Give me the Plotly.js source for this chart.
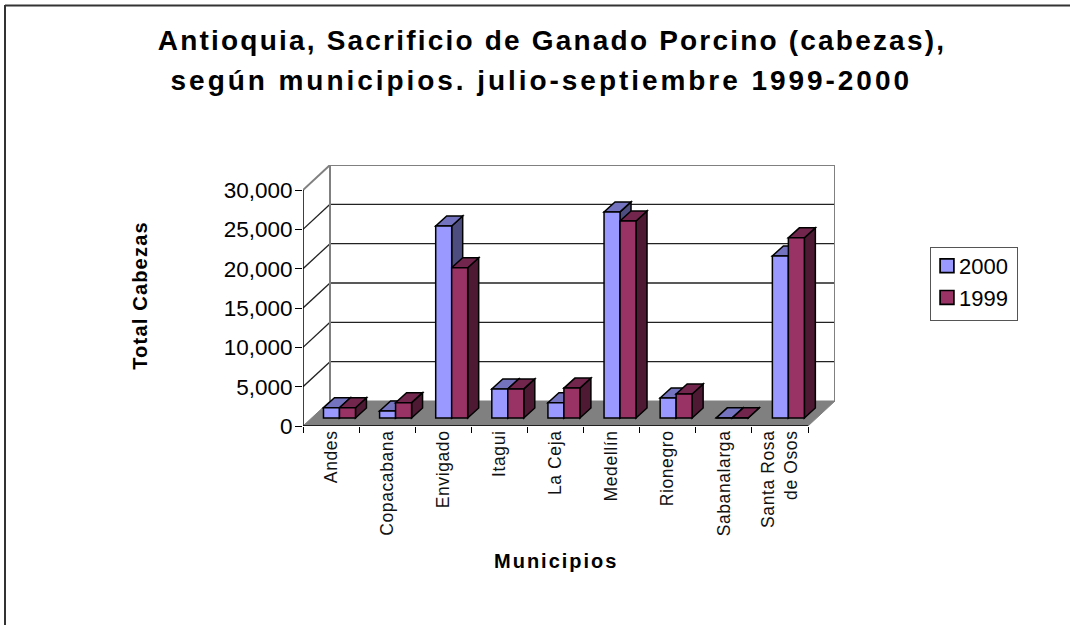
<!DOCTYPE html>
<html>
<head>
<meta charset="utf-8">
<script src="https://cdn.plot.ly/plotly-3.0.1.min.js"></script>
<style>
html,body{margin:0;padding:0;background:#fff}
#chart{width:1070px;height:625px}
.xtick text{letter-spacing:.6px}
.ytitle{letter-spacing:1.2px}
.annotation-text{letter-spacing:2px}
.legend .legendtext{transform:translate(-12px,-3px)}
.legend .legendpoints path{transform:translate(16px,-3px) scale(1.15)}
.legend .bg{width:87px;height:73px}
</style>
</head>
<body>
<div id="chart"></div>
<script>
const categories = ['Andes','Copacabana','Envigado','Itagui','La Ceja','Medellín','Rionegro','Sabanalarga','Santa Rosa<br>de Osos'];
const values2000 = [1300,900,24400,3700,1950,26200,2550,20,20600];
const values1999 = [1300,1950,19100,3700,3800,25050,3050,20,22900];
const yTicks = [0,5000,10000,15000,20000,25000,30000];

const W=1070,H=625;
const fx0=303, fx1=808, fy0=426, fyTop=190;     // front frame in px
const wallDx=27, wallDy=25;                     // depth of the box in px
const catPx=(fx1-fx0)/categories.length;
const valPx=(fy0-fyTop)/30000;
const xr=[-0.5, categories.length-0.5+wallDx/catPx];
const yr=[0,30000+wallDy/valPx];
const wx=wallDx/catPx, wy=wallDy/valPx;         // wall offset in data units
const floorY=8/valPx;                           // bars stand this far in on the floor
const barW=0.285, off2000=-0.135, off1999=0.15;
const depX=11/catPx, depY=10/valPx;

const GREY='#808080';
const shapes=[];
function poly(pts,fill,lc,lw){
  shapes.push({type:'path',layer:'below',xref:'x',yref:'y',
    path:'M'+pts.map(p=>p[0]+','+p[1]).join('L')+'Z',
    fillcolor:fill,line:{color:lc,width:lw}});
}
function seg(x0,y0,x1,y1,c,w){
  shapes.push({type:'line',layer:'below',xref:'x',yref:'y',x0,y0,x1,y1,line:{color:c,width:w}});
}
const xL=xr[0], xR=xr[0]+categories.length, yMax=30000;
// floor
poly([[xL,0],[xR,0],[xR+wx,wy],[xL+wx,wy]],GREY,GREY,1);
// wall gridlines and side lines
yTicks.forEach(v=>{
  if(v>0 && v<yMax) seg(xL+wx,v+wy,xR+wx,v+wy,'#222',1.3);
  if(v>0 && v<yMax) seg(xL,v,xL+wx,v+wy,'#222',1.3);
});
// wall frame
seg(xL,yMax,xL+wx,yMax+wy,GREY,2);
seg(xL+wx,wy,xL+wx,yMax+wy,GREY,2);
seg(xL+wx,yMax+wy,xR+wx,yMax+wy,GREY,2);
seg(xR+wx,wy,xR+wx,yMax+wy,GREY,2);
// bar depth faces
function faces(vals,off,topc,sidec){
  vals.forEach((v,i)=>{
    const l=i+off, r=l+barW, b=floorY, t=floorY+v;
    poly([[r,b],[r+depX,b+depY],[r+depX,t+depY],[r,t]],sidec,'#000',1.5);
    poly([[l,t],[r,t],[r+depX,t+depY],[l+depX,t+depY]],topc,'#000',1.5);
  });
}
faces(values2000,off2000,'#7373BF','#4D4D80');
faces(values1999,off1999,'#73264D','#4D1933');
// front axes
seg(xL,0,xL,yMax,'#000',1.5);
seg(xL,0,xR,0,'#000',1.5);

const bar=(name,vals,off,color,grp)=>({
  type:'bar',name,x:categories,y:vals,base:floorY,width:barW,offset:off,
  legendgroup:grp,
  marker:{color,line:{color:'#000',width:1.5}},
  hovertemplate:'%{x}: %{y:,d}<extra>'+name+'</extra>'
});
const traces=[bar('2000',values2000,off2000,'#9999FF','a'),bar('1999',values1999,off1999,'#993366','b')];

const pw=fx1+wallDx-fx0, ph=fy0-fyTop+wallDy;
const pxX=x=>(x-fx0)/pw, pxY=y=>(fy0-y)/ph;
const layout={
  width:W,height:H,autosize:false,
  paper_bgcolor:'#fff',plot_bgcolor:'#fff',
  font:{family:'"Liberation Sans",Arial,sans-serif',color:'#000'},
  barmode:'overlay',showlegend:true,
  title:{text:'<span style="font-size:28px;letter-spacing:2.2px">Antioquia, Sacrificio de Ganado Porcino (cabezas),</span><br><span style="font-size:28px;letter-spacing:2.95px">según municipios. julio-septiembre 1999-2000\u00A0\u00A0</span>',
    font:{size:31,weight:700,family:'"Liberation Sans",Arial,sans-serif',color:'#000'},
    x:552/W,xanchor:'center',y:1-49.5/H,yanchor:'top'},
  margin:{l:fx0,r:W-(fx1+wallDx),t:fyTop-wallDy,b:H-fy0,pad:0},
  xaxis:{type:'category',categoryorder:'array',categoryarray:categories,range:xr,autorange:false,
    showgrid:false,zeroline:false,showline:false,ticks:'outside',ticklen:6,tickwidth:1,tickcolor:'#000',
    tickson:'boundaries',tickangle:-90,tickfont:{size:17.5,color:'#111'},automargin:false},
  yaxis:{range:yr,autorange:false,tickmode:'array',tickvals:yTicks,ticktext:yTicks.map(v=>v.toLocaleString('en-US')),
    showgrid:false,zeroline:false,showline:false,ticks:'outside',ticklen:7,tickwidth:1,tickcolor:'#000',
    tickfont:{size:22.5,color:'#000'},automargin:true,ticklabelstandoff:-2,
    title:{text:'Total Cabezas\u00A0',font:{size:20,weight:700},standoff:70}},
  legend:{x:pxX(930),xanchor:'left',y:pxY(247),yanchor:'top',bgcolor:'#fff',bordercolor:'#555',borderwidth:1,
    font:{size:22,color:'#000'},tracegroupgap:10,traceorder:'normal',itemclick:false,itemdoubleclick:false},
  annotations:[{text:'<b>Municipios</b>',xref:'paper',yref:'paper',x:pxX(556),
    y:pxY(561),xanchor:'center',yanchor:'middle',showarrow:false,font:{size:20,color:'#000'}}],
  shapes:shapes.concat([
    {type:'line',xref:'paper',yref:'paper',layer:'below',x0:pxX(5),x1:pxX(W),y0:pxY(5.5),y1:pxY(5.5),line:{color:'#333',width:2}},
    {type:'line',xref:'paper',yref:'paper',layer:'below',x0:pxX(5),x1:pxX(5),y0:pxY(5),y1:pxY(H),line:{color:'#333',width:2}}
  ])
};
Plotly.newPlot('chart',traces,layout,{displayModeBar:false,responsive:false});
</script>
</body>
</html>
